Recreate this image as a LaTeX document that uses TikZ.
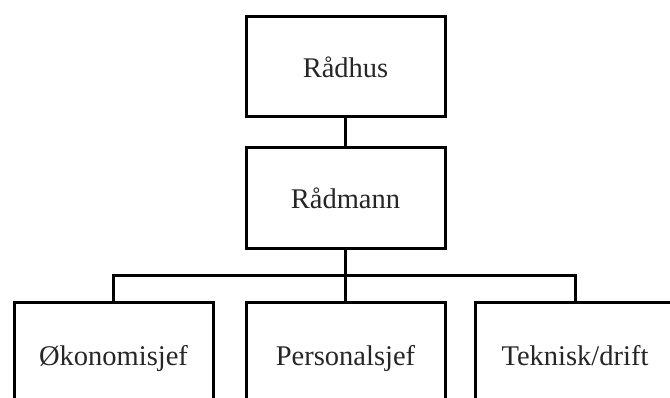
\documentclass[tikz,border=0pt]{standalone}
\usepackage{fontspec}
\setmainfont{Liberation Serif}
\begin{document}
\begin{tikzpicture}[x=1pt,y=1pt,
  orgbox/.style={draw=black,line width=3pt,fill=white,minimum width=199pt,minimum height=100pt,
    inner sep=0pt,text height=21.5pt,text depth=0pt,
    font=\fontsize{28.5}{31}\selectfont,text=black!85},
  deptbox/.style={orgbox,minimum height=106pt},
  link/.style={draw=black,line width=3pt}]
\useasboundingbox (0,0) rectangle (670,397);
\clip (0,0) rectangle (670,397);
% top of the hierarchy
\node[orgbox] (radhus) at (345.5,330.5) {Rådhus};
\node[orgbox] (radmann) at (345.5,199) {Rådmann};
% departments
\node[deptbox] (okonomi) at (113.5,42) {Økonomisjef};
\node[deptbox] (personal) at (345.5,42) {Personalsjef};
\node[deptbox] (teknisk) at (575,42) {Teknisk/drift};
% connectors
\coordinate (bus) at (345.5,122);
\draw[link] (radhus.south) -- (radmann.north);
\draw[link] (radmann.south) -- (bus);
\draw[link] (okonomi.north) |- (bus) -| (teknisk.north);
\draw[link] (bus) -- (personal.north);
\end{tikzpicture}
\end{document}
